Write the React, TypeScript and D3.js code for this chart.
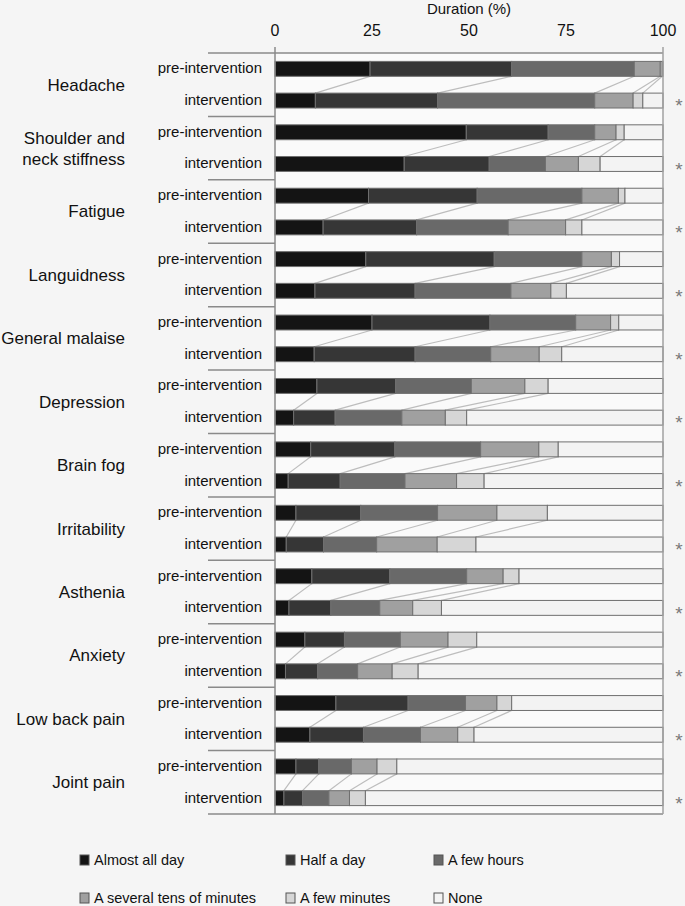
import * as d3 from "d3";

const categories = [
  "Headache",
  "Shoulder and neck stiffness",
  "Fatigue",
  "Languidness",
  "General malaise",
  "Depression",
  "Brain fog",
  "Irritability",
  "Asthenia",
  "Anxiety",
  "Low back pain",
  "Joint pain",
];
const phases = ["pre-intervention", "intervention"];
const durations = [
  "Almost all day",
  "Half a day",
  "A few hours",
  "A several tens of minutes",
  "A few minutes",
  "None",
];
const ticks = [0, 25, 50, 75, 100];

// duration share (%) per category, pre-intervention / intervention
const almostAllDayPre = [24.5, 49.3, 24.1, 23.4, 25.0, 10.8, 9.2, 5.4, 9.5, 7.7, 15.7, 5.4];
const almostAllDayInt = [10.4, 33.3, 12.4, 10.3, 10.1, 4.8, 3.4, 2.9, 3.6, 2.7, 9.0, 2.3];
const halfDayPre = [36.5, 21.1, 28.0, 33.1, 30.4, 20.3, 21.7, 16.7, 20.1, 10.2, 18.6, 5.9];
const halfDayInt = [31.5, 21.9, 24.1, 25.8, 26.0, 10.7, 13.4, 9.6, 10.8, 8.3, 13.8, 4.8];
const fewHoursPre = [31.6, 12.0, 27.0, 22.6, 22.1, 19.5, 22.1, 19.8, 19.8, 14.4, 14.8, 8.4];
const fewHoursInt = [40.5, 14.5, 23.6, 24.7, 19.5, 17.2, 16.7, 13.7, 12.6, 10.3, 14.7, 6.8];
const tensMinPre = [6.7, 5.5, 9.4, 7.6, 9.0, 13.8, 15.0, 15.3, 9.4, 12.3, 8.1, 6.6];
const tensMinInt = [9.9, 8.5, 14.8, 10.3, 12.5, 11.2, 13.3, 15.6, 8.5, 8.9, 9.6, 5.3];
const fewMinPre = [0.5, 2.1, 1.7, 2.1, 2.1, 6.0, 5.0, 13.0, 4.1, 7.4, 3.8, 5.1];
const fewMinInt = [2.5, 5.6, 4.2, 4.0, 5.8, 5.5, 7.1, 10.0, 7.4, 6.7, 4.2, 4.1];
const nonePre = [0.2, 10.0, 9.8, 11.2, 11.4, 29.6, 27.0, 29.8, 37.1, 48.0, 39.0, 68.6];
const noneInt = [5.2, 16.2, 20.9, 24.9, 26.1, 50.6, 46.1, 48.2, 57.1, 63.1, 48.7, 76.7];

const preSeries = [almostAllDayPre, halfDayPre, fewHoursPre, tensMinPre, fewMinPre, nonePre];
const intSeries = [almostAllDayInt, halfDayInt, fewHoursInt, tensMinInt, fewMinInt, noneInt];

const colors = ["#141414", "#363636", "#696969", "#a0a0a0", "#d6d6d6", "#f3f3f3"];

const W = 685;
const H = 906;
const font = "'Liberation Sans', Arial, sans-serif";

export default function App() {
  const x = d3.scaleLinear().domain([0, 100]).range([275, 663]);
  const group = d3.scaleBand().domain(categories).range([53, 814]);
  const row = d3
    .scaleBand()
    .domain(phases)
    .range([0, group.bandwidth()])
    .paddingInner(0.53)
    .paddingOuter(0.265);

  // one row per category and phase, then stack the durations
  const rows = categories.flatMap((c, i) =>
    phases.map((p, j) => {
      const src = j === 0 ? preSeries : intSeries;
      const r: any = { category: c, phase: p };
      durations.forEach((d, k) => (r[d] = src[k][i]));
      return r;
    })
  );
  const stacked = d3.stack().keys(durations)(rows);
  const rowY = (i: number) =>
    group(rows[i].category)! + row(rows[i].phase)!;
  const bh = row.bandwidth();

  const legendCols = [80, 286, 434];
  const legendRows = [860, 898];

  return (
    <svg
      width={W}
      height={H}
      style={{ position: "absolute", left: 0, top: 0, background: "#f5f5f5" }}
      fontFamily={font}
    >
      <rect x={x(0)} y={53} width={x(100) - x(0)} height={814 - 53} fill="#fafafa" />

      {/* axis title and ticks */}
      <text x={x(50)} y={14} textAnchor="middle" fontSize={15} fill="#111">
        Duration (%)
      </text>
      {ticks.map((t) => (
        <text key={t} x={x(t)} y={36} textAnchor="middle" fontSize={16} fill="#111">
          {t}
        </text>
      ))}

      {/* connector lines between pre and intervention bars */}
      {categories.map((c, i) =>
        stacked.slice(0, durations.length - 1).map((s) => {
          const a = s[i * 2];
          const b = s[i * 2 + 1];
          return (
            <line
              key={c + s.key}
              x1={x(a[1])}
              y1={rowY(i * 2) + bh}
              x2={x(b[1])}
              y2={rowY(i * 2 + 1)}
              stroke="#bdbdbd"
              strokeWidth={1.2}
            />
          );
        })
      )}

      {/* bars */}
      {stacked.map((s, k) => (
        <g key={s.key} fill={colors[k]} stroke="#6f6f6f" strokeWidth={1}>
          {s.map((d, i) => (
            <rect
              key={i}
              x={x(d[0])}
              y={rowY(i)}
              width={x(d[1]) - x(d[0])}
              height={bh}
            />
          ))}
        </g>
      ))}

      {/* frame */}
      <g stroke="#8a8a8a" strokeWidth={1.5}>
        <line x1={208} x2={x(100)} y1={53} y2={53} />
        <line x1={208} x2={x(100)} y1={814} y2={814} />
        <line x1={x(0)} x2={x(0)} y1={47} y2={814} />
        <line x1={x(100)} x2={x(100)} y1={47} y2={814} stroke="#a0a0a0" />
        {categories.slice(1).map((c) => (
          <line key={c} x1={208} x2={x(0)} y1={group(c)} y2={group(c)} />
        ))}
      </g>

      {/* labels */}
      {categories.map((c) => {
        const cy = group(c)! + group.bandwidth() / 2;
        const lines = c === "Shoulder and neck stiffness" ? ["Shoulder and", "neck stiffness"] : [c];
        return (
          <g key={c}>
            {lines.map((l, j) => (
              <text
                key={l}
                x={125}
                y={cy + (j - (lines.length - 1) / 2) * 21}
                dy="0.35em"
                textAnchor="end"
                fontSize={17}
                fill="#111"
              >
                {l}
              </text>
            ))}
            {phases.map((p) => (
              <text
                key={p}
                x={262}
                y={group(c)! + row(p)! + bh / 2}
                dy="0.3em"
                textAnchor="end"
                fontSize={15}
                fill="#111"
              >
                {p}
              </text>
            ))}
            <text
              x={679}
              y={group(c)! + row("intervention")! + bh / 2}
              dy="0.62em"
              textAnchor="middle"
              fontSize={19}
              fill="#7a7a7a"
            >
              *
            </text>
          </g>
        );
      })}

      {/* legend */}
      {durations.map((d, k) => {
        const lx = legendCols[k % 3];
        const ly = legendRows[Math.floor(k / 3)];
        return (
          <g key={d}>
            <rect x={lx} y={ly - 5} width={9} height={10} fill={colors[k]} stroke="#555" strokeWidth={1} />
            <text x={lx + 14} y={ly} dy="0.35em" fontSize={14.5} fill="#111">
              {d}
            </text>
          </g>
        );
      })}
    </svg>
  );
}
